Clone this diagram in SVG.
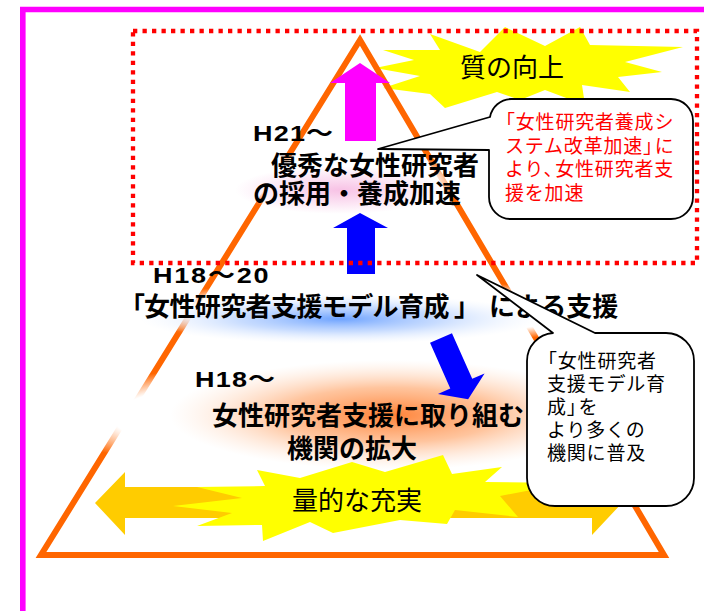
<svg xmlns="http://www.w3.org/2000/svg" width="704" height="611" viewBox="0 0 704 611">
<defs>
<style>
.jp{font-family:"Noto Sans CJK JP","Noto Sans CJK SC",sans-serif;fill:#000}
.b{font-weight:bold}
.lat{font-family:"Liberation Sans","Noto Sans CJK JP",sans-serif;font-weight:bold;font-size:22.5px;fill:#000}
.s26{font-size:26px}
.c{font-size:19px;letter-spacing:0.8px}
.red{fill:#ff0000}
.callout{fill:#fff;stroke:#000;stroke-width:1.8;stroke-linejoin:round}
.star{fill:#ffff00}
</style>
<radialGradient id="gWhite"><stop offset="0" stop-color="#fff" stop-opacity="1"/><stop offset="0.75" stop-color="#fff" stop-opacity="1"/><stop offset="1" stop-color="#fff" stop-opacity="0"/></radialGradient>
<radialGradient id="gPink"><stop offset="0" stop-color="#f4a8da" stop-opacity="0.7"/><stop offset="1" stop-color="#f4a8da" stop-opacity="0"/></radialGradient>
<radialGradient id="gBlue"><stop offset="0" stop-color="#4a8cff" stop-opacity="0.8"/><stop offset="0.5" stop-color="#8fb8ff" stop-opacity="0.5"/><stop offset="1" stop-color="#d6e5ff" stop-opacity="0"/></radialGradient>
<radialGradient id="gOrange"><stop offset="0" stop-color="#ff7420" stop-opacity="0.9"/><stop offset="0.5" stop-color="#ff9d5c" stop-opacity="0.6"/><stop offset="1" stop-color="#ffd2b4" stop-opacity="0"/></radialGradient>
</defs>

<g id="frame">
<path d="M22.8,611 V9.5 H704" fill="none" stroke="#ff00ff" stroke-width="5.6"/>
</g>

<g id="star-quality">
<polygon class="star" points="430,34 480,52 505,27 545,46 580,27 590,45 683,47 625,62 662,72 618,77 630,92 582,85 585,105 545,90 520,100 497,92 445,108 430,94 383,88 420,76 375,68 414,60 383,50 440,50"/>
<text class="jp" font-size="26" x="460" y="77">質の向上</text>
</g>

<g id="pyramid">
<polygon points="360,40 41,555 664,555" fill="none" stroke="#ff6600" stroke-width="6"/>
</g>

<g id="glows">
<ellipse cx="345" cy="182" rx="118" ry="33" fill="url(#gWhite)"/>
<ellipse cx="340" cy="190" rx="105" ry="24" fill="url(#gPink)"/>
<ellipse cx="380" cy="312" rx="255" ry="32" fill="url(#gWhite)"/>
<ellipse cx="340" cy="319" rx="200" ry="25" fill="url(#gBlue)"/>
<ellipse cx="320" cy="418" rx="275" ry="56" fill="url(#gWhite)"/>
<ellipse cx="390" cy="415" rx="220" ry="55" fill="url(#gOrange)"/>
</g>

<g id="connectors">
<path id="arrow-both" d="M95,503 L125,472 L125,487 L592,487 L592,472 L622,503 L592,535 L592,518 L125,518 L125,535 Z" fill="#ffcc00"/>
<path id="arrow-magenta" d="M360,63 L390,83 L376,83 L376,141 L345,141 L345,83 L330,83 Z" fill="#ff00ff"/>
<path id="arrow-blue-up" d="M360,213 L388,228 L375,228 L375,274 L347,274 L347,228 L333,228 Z" fill="#0000ff"/>
<path id="arrow-blue-diag" d="M-12,0 L12,0 L12,50 L25.5,50 L0,67 L-25.5,50 L-12,50 Z" fill="#0000ff" transform="translate(441,338) rotate(-23.9)"/>
</g>

<g id="star-quantity">
<polygon class="star" points="257,470 300,478 352,462 385,472 443,455 452,474 502,467 485,482 568,483 500,496 518,517 455,510 447,524 400,520 333,533 310,522 263,541 262,525 197,526 232,513 173,506 242,498 197,487 265,486"/>
<text class="jp" font-size="26" x="292" y="510">量的な充実</text>
</g>

<g id="level-top">
<text class="lat" transform="translate(253,141) scale(1.2,1)" style="letter-spacing:1px">H21～</text>
<text class="jp b s26" x="271" y="175">優秀な女性研究者</text>
<text class="jp b s26" x="253" y="203">の採用・養成加速</text>
</g>

<g id="level-mid">
<text class="lat" transform="translate(153,283) scale(1.2,1)" style="letter-spacing:1.5px">H18～20</text>
<text class="jp b s26" y="316"><tspan x="119">「</tspan><tspan x="144" style="letter-spacing:-0.6px">女性研究者支援モデル育成</tspan><tspan x="454">」</tspan><tspan x="489">による支援</tspan></text>
</g>

<g id="level-base">
<text class="lat" transform="translate(195,387) scale(1.2,1)" style="letter-spacing:1px">H18～</text>
<text class="jp b s26" x="212" y="425">女性研究者支援に取り組む</text>
<text class="jp b s26" x="287" y="458">機関の拡大</text>
</g>

<g id="bound-quality">
<rect x="133" y="31" width="564" height="232" fill="none" stroke="#ff0000" stroke-width="4.3" stroke-dasharray="4.3 5.2"/>
</g>

<g id="callout-system">
<path class="callout" d="M511,99 H671 A22,22 0 0 1 693,121 V197 A22,22 0 0 1 671,219 H511 A22,22 0 0 1 489,197 V150 L378,149 L490,117 A22,22 0 0 1 511,99 Z"/>
<text class="jp c red" x="496" y="129">「女性研究者養成シ</text>
<text class="jp c red" x="505" y="152.5">ステム改革加速」<tspan dx="-8">に</tspan></text>
<text class="jp c red" x="505" y="176">より、<tspan dx="-8">女性研究者支</tspan></text>
<text class="jp c red" x="505" y="199.5">援を加速</text>
</g>

<g id="callout-model">
<path class="callout" d="M595,333 H666 A28,28 0 0 1 694,361 V478 A28,28 0 0 1 666,506 H555 A28,28 0 0 1 527,478 V361 A28,28 0 0 1 553,333 L477,275 Z"/>
<text class="jp c" x="538" y="368">「女性研究者</text>
<text class="jp c" x="547" y="391">支援モデル育</text>
<text class="jp c" x="547" y="414">成」<tspan dx="-8">を</tspan></text>
<text class="jp c" x="547" y="437">より多くの</text>
<text class="jp c" x="547" y="460">機関に普及</text>
</g>
</svg>
